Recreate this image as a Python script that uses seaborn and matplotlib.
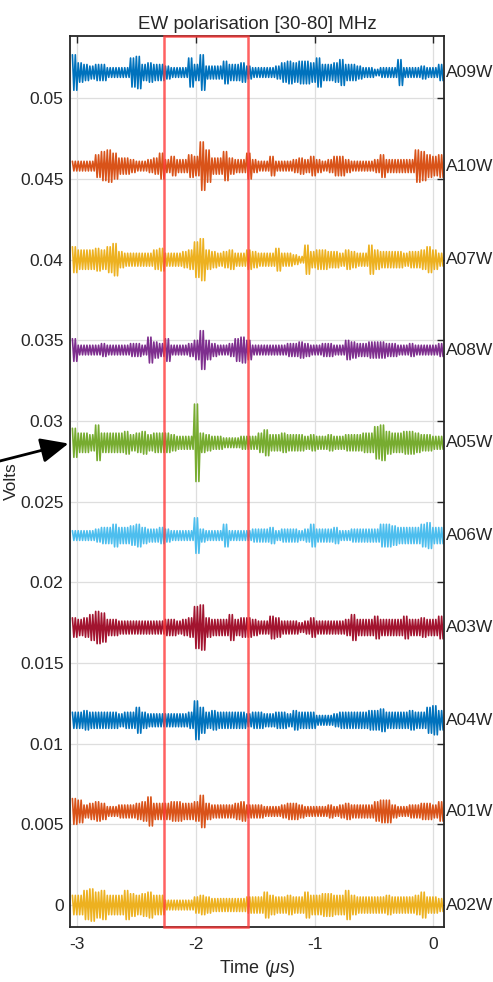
import numpy as np
import pandas as pd
import matplotlib
matplotlib.use("Agg")
import matplotlib.pyplot as plt
import matplotlib.transforms as mtransforms
from matplotlib.patches import Rectangle
import seaborn as sns

# ---------------- data ----------------
title = "EW polarisation [30-80] MHz"
x_label = "Time ($\\mu$s)"
y_label = "Volts"

stations = ["A09W", "A10W", "A07W", "A08W", "A05W", "A06W", "A03W", "A04W", "A01W", "A02W"]
baselines = [0.0516, 0.0458, 0.0400, 0.0344, 0.02865, 0.0229, 0.0172, 0.01145, 0.0058, 0.0]
colors = ["#0072BD", "#D95319", "#EDB120", "#7E2F8E", "#77AC30",
          "#4DBEEE", "#A2142F", "#0072BD", "#D95319", "#EDB120"]

# trace time span (microseconds) and envelope half-amplitudes (units of 1e-4 V), 64 bins each
t_start, t_end = -3.047, 0.089
amp_unit = 1e-4
a09w = [11, 6, 5, 4, 5, 5, 3, 3,  3, 3, 9, 10, 5, 6, 5, 5,  4, 3, 3, 3, 9, 5, 11, 4,  4, 4, 7, 5, 5, 6, 4, 3,
        3, 3, 3, 4, 6, 7, 6, 7,  7, 6, 9, 5, 5, 6, 8, 5,  5, 4, 3, 3, 2, 3, 3, 3,  8, 3, 3, 3, 4, 3, 3, 5]
a10w = [3, 3, 3, 3, 7, 9, 10, 8,  5, 5, 4, 3, 3, 4, 5, 8,  4, 6, 4, 4, 7, 6, 15, 10,  5, 5, 9, 5, 4, 4, 8, 4,
        3, 3, 6, 3, 3, 3, 4, 5,  4, 6, 4, 3, 4, 6, 6, 4,  3, 3, 3, 3, 4, 7, 4, 4,  4, 4, 4, 10, 9, 7, 6, 7]
a07w = [8, 6, 6, 6, 7, 6, 8, 10,  5, 4, 4, 4, 4, 4, 6, 7,  4, 4, 4, 5, 6, 11, 13, 6,  5, 4, 5, 6, 4, 4, 6, 5,
        4, 4, 4, 7, 4, 4, 3, 2,  9, 5, 6, 6, 5, 5, 4, 6,  5, 4, 4, 9, 6, 5, 5, 5,  5, 4, 5, 5, 6, 8, 6, 4]
a08w = [7, 3, 3, 3, 3, 4, 3, 3,  3, 3, 4, 4, 3, 8, 5, 4,  7, 3, 3, 3, 4, 6, 12, 6,  4, 3, 3, 4, 7, 8, 6, 3,
        3, 3, 3, 3, 3, 4, 4, 5,  4, 3, 3, 4, 4, 3, 3, 6,  5, 4, 4, 5, 5, 5, 4, 4,  3, 3, 4, 3, 3, 3, 3, 4]
a05w = [9, 6, 6, 5, 11, 6, 6, 6,  6, 7, 5, 6, 7, 5, 6, 6,  6, 5, 4, 4, 4, 24, 6, 5,  4, 4, 3, 3, 3, 4, 4, 4,
        6, 8, 5, 5, 6, 5, 5, 5,  4, 5, 4, 4, 5, 4, 4, 5,  5, 5, 6, 6, 10, 11, 7, 6,  6, 7, 7, 6, 5, 5, 4, 4]
a06w = [3, 3, 3, 3, 4, 5, 5, 7,  5, 5, 6, 7, 5, 4, 4, 5,  4, 3, 3, 3, 3, 11, 4, 3,  3, 3, 7, 3, 3, 3, 3, 4,
        4, 4, 5, 3, 4, 4, 4, 3,  4, 7, 4, 4, 4, 5, 3, 3,  4, 4, 4, 4, 4, 7, 7, 6,  5, 5, 5, 5, 7, 8, 5, 5]
a03w = [6, 5, 6, 8, 10, 9, 5, 5,  4, 4, 4, 4, 4, 4, 4, 4,  5, 5, 4, 5, 6, 13, 14, 6,  5, 5, 5, 8, 5, 6, 6, 5,
        4, 4, 7, 6, 4, 4, 4, 3,  4, 6, 4, 4, 4, 4, 4, 5,  8, 5, 5, 5, 7, 5, 5, 5,  5, 7, 5, 5, 6, 5, 5, 7]
a04w = [5, 5, 6, 5, 5, 5, 5, 5,  4, 5, 5, 8, 5, 4, 4, 4,  4, 4, 4, 4, 5, 12, 8, 5,  6, 5, 5, 5, 5, 5, 4, 5,
        5, 4, 4, 5, 5, 4, 6, 5,  5, 5, 3, 3, 3, 4, 5, 5,  5, 5, 5, 6, 6, 7, 5, 5,  5, 5, 6, 5, 5, 8, 9, 6]
a01w = [8, 7, 4, 5, 6, 5, 3, 3,  4, 4, 4, 5, 6, 9, 5, 5,  5, 6, 6, 5, 5, 6, 10, 5,  4, 4, 4, 4, 5, 6, 4, 4,
        4, 3, 3, 3, 4, 5, 5, 4,  3, 3, 3, 3, 4, 3, 4, 5,  4, 4, 4, 4, 6, 7, 7, 4,  3, 3, 4, 4, 5, 5, 4, 6]
a02w = [6, 6, 9, 10, 8, 9, 6, 6,  6, 9, 7, 6, 7, 8, 6, 6,  3, 3, 3, 3, 3, 5, 6, 5,  4, 4, 4, 4, 4, 4, 5, 5,
        5, 8, 6, 5, 5, 6, 5, 5,  8, 6, 6, 7, 7, 6, 6, 9,  6, 5, 5, 5, 5, 5, 6, 5,  5, 5, 5, 6, 8, 5, 5, 4]
amplitudes = [a09w, a10w, a07w, a08w, a05w, a06w, a03w, a04w, a01w, a02w]

# highlighted time window (microseconds)
window = [-2.27, -1.56]

x_ticks = [-3, -2, -1, 0]
x_tick_labels = ["-3", "-2", "-1", "0"]
y_ticks = [0, 0.005, 0.01, 0.015, 0.02, 0.025, 0.03, 0.035, 0.04, 0.045, 0.05]
y_tick_labels = ["0", "0.005", "0.01", "0.015", "0.02", "0.025", "0.03", "0.035", "0.04", "0.045", "0.05"]
x_lim = (-3.057, 0.093)
y_lim = (-0.00138, 0.05388)

# ---------------- build long table (two swings per envelope bin) ----------------
swings_per_bin = 2
rows = []
for name, base, amps in zip(stations, baselines, amplitudes):
    n = len(amps)
    edges = np.linspace(t_start, t_end, n + 1)
    dt = edges[1] - edges[0]
    step = dt / (2 * swings_per_bin)
    for i, a in enumerate(amps):
        for k in range(2 * swings_per_bin):
            sign = 1 if k % 2 == 0 else -1
            rows.append((name, edges[i] + step * (k + 0.5), base + sign * a * amp_unit))
df = pd.DataFrame(rows, columns=["station", "t", "v"])

# ---------------- style ----------------
sns.set_theme(style="white")
plt.rcParams["font.family"] = ["Liberation Sans", "DejaVu Sans"]
plt.rcParams["mathtext.fontset"] = "custom"
plt.rcParams["mathtext.it"] = "Liberation Sans:italic"
plt.rcParams["mathtext.rm"] = "Liberation Sans"

fig = plt.figure(figsize=(4.93, 9.82), dpi=100)
ax = fig.add_axes([0.1430, 0.0557, 0.7582, 0.9079])

dark = "#262626"
ax.grid(True, color="#dedede", linewidth=0.9)
ax.set_axisbelow(True)

sns.lineplot(data=df, x="t", y="v", hue="station", hue_order=stations,
             palette=dict(zip(stations, colors)), sort=False, estimator=None,
             linewidth=1.2, legend=False, ax=ax)

ax.set_xlim(*x_lim)
ax.set_ylim(*y_lim)
ax.set_xticks(x_ticks)
ax.set_xticklabels(x_tick_labels)
ax.set_yticks(y_ticks)
ax.set_yticklabels(y_tick_labels)
ax.tick_params(direction="in", top=True, right=True, length=5, width=1.0,
               colors=dark, labelsize=12.5, labelcolor=dark)
ax.tick_params(axis="x", pad=7)
ax.tick_params(axis="y", pad=5)
for sp in ax.spines.values():
    sp.set_visible(True)
    sp.set_color(dark)
    sp.set_linewidth(1.3)

ax.set_title(title, fontsize=13.5, color=dark, pad=5)
ax.set_xlabel(x_label, fontsize=13, color=dark, labelpad=4)
ax.set_ylabel(y_label, fontsize=12.5, color=dark)
ax.yaxis.set_label_coords(-0.138, 0.5)

# highlighted window
trans = mtransforms.blended_transform_factory(ax.transData, ax.transAxes)
ax.add_patch(Rectangle((window[0], 0), window[1] - window[0], 1, transform=trans,
                       fill=False, edgecolor="#ff3a3a", alpha=0.8, linewidth=1.8,
                       zorder=10, clip_on=False))

# station labels on the right
trans_lab = mtransforms.blended_transform_factory(ax.transAxes, ax.transData)
for name, base in zip(stations, baselines):
    ax.text(1.004, base, name, transform=trans_lab, ha="left", va="center",
            fontsize=12.5, color=dark, clip_on=False)

# arrow pointing at the A05W trace
ax.annotate("", xy=(68.5, 982 - 443.5), xytext=(-6, 982 - 462.5),
            xycoords="figure pixels", textcoords="figure pixels",
            arrowprops=dict(arrowstyle="-|>,head_length=0.85,head_width=0.38",
                            mutation_scale=20, color="black", lw=2.0,
                            shrinkA=0, shrinkB=0),
            annotation_clip=False)

fig.savefig("out.png", dpi=100)
